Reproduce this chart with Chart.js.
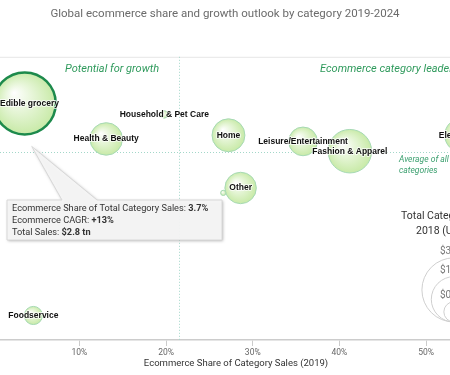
<!DOCTYPE html>
<html>
<head>
<meta charset="utf-8">
<script src="https://cdn.jsdelivr.net/npm/chart.js@4.4.1/dist/chart.umd.min.js"></script>
<style>
  html, body { margin: 0; padding: 0; background: #fff; overflow: hidden; }
</style>
</head>
<body>
<canvas id="chart" width="450" height="375"></canvas>
<script>
// category data (share of sales 2019 in %, ecommerce CAGR 2019-2024 in %, total sales 2018 in US$ tn)
const categories = ['Edible grocery', 'Household & Pet Care', 'Health & Beauty', 'Home', 'Other', '',
  'Leisure/Entertainment', 'Fashion & Apparel', 'Electronics', 'Foodservice'];
const shareValues = [3.7, 19.8, 13.1, 27.2, 28.6, 26.6, 35.8, 41.2, 54.1, 4.7];
const cagrValues = [13, 12.1, 10.1, 10.4, 6.1, 5.7, 9.9, 9.1, 10.4, -4.3];
const salesValues = [2.8, 0.04, 0.77, 0.79, 0.72, 0.02, 0.6, 1.38, 0.84, 0.24];

const avgShare = 21.5;
const avgCagr = 9.0;

const xTicks = [10, 20, 30, 40, 50];
const legendSizes = [3, 1.5, 0.3];
const legendLabels = ['$3 tn', '$1.5 tn', '$0.3 tn'];

const highlighted = 0; // the bubble the tooltip is shown for

// bubble radius in px from total sales (area proportional)
const maxR = 31;
const maxSales = 2.8;
function radiusFor(sales) {
  return maxR * Math.sqrt(sales / maxSales);
}

const green = '#2f9a5c';

// gradient fill for every bubble, computed from its scale position
function bubbleFill(c) {
  const chart = c.chart;
  const xs = chart.scales.x, ys = chart.scales.y;
  if (!xs || !ys || c.type !== 'data' || !c.raw) return '#d3eebb';
  const px = xs.getPixelForValue(c.raw.x);
  const py = ys.getPixelForValue(c.raw.y);
  const r = c.raw.r;
  if (!isFinite(px) || !isFinite(py) || !isFinite(r)) return '#d3eebb';
  const g = chart.ctx.createRadialGradient(px - r * 0.35, py - r * 0.35, 0, px, py, r * 1.05);
  g.addColorStop(0, '#ffffff');
  g.addColorStop(1, '#c6e9a4');
  return g;
}

// lines behind the bubbles: top rule and dotted averages
const backgroundLines = {
  id: 'backgroundLines',
  beforeDatasetsDraw(chart) {
    const { ctx, chartArea, scales } = chart;
    ctx.save();
    ctx.strokeStyle = '#e6e6e6';
    ctx.lineWidth = 1;
    ctx.beginPath();
    ctx.moveTo(chartArea.left, chartArea.top + 0.5);
    ctx.lineTo(chartArea.right, chartArea.top + 0.5);
    ctx.stroke();

    ctx.strokeStyle = '#a3d7c9';
    ctx.setLineDash([1, 2]);
    const ax = Math.round(scales.x.getPixelForValue(avgShare)) + 0.5;
    ctx.beginPath();
    ctx.moveTo(ax, chartArea.top);
    ctx.lineTo(ax, chartArea.bottom);
    ctx.stroke();
    const ay = Math.round(scales.y.getPixelForValue(avgCagr)) + 0.5;
    ctx.beginPath();
    ctx.moveTo(chartArea.left, ay);
    ctx.lineTo(chartArea.right, ay);
    ctx.stroke();
    ctx.restore();
  }
};

// text and overlays drawn over the bubbles
const overlays = {
  id: 'overlays',
  afterDatasetsDraw(chart) {
    const { ctx, scales, chartArea } = chart;
    const xs = scales.x, ys = scales.y;
    ctx.save();

    // bubble labels, kept inside the plot on the left
    ctx.font = 'bold 8.5px "Liberation Sans", Arial, sans-serif';
    ctx.textAlign = 'center';
    ctx.textBaseline = 'middle';
    ctx.lineJoin = 'round';
    categories.forEach((name, i) => {
      if (!name) return;
      const half = ctx.measureText(name).width / 2;
      const px = Math.max(xs.getPixelForValue(shareValues[i]), chartArea.left + half);
      const py = ys.getPixelForValue(cagrValues[i]);
      ctx.strokeStyle = 'rgba(255,255,255,0.7)';
      ctx.lineWidth = 2;
      ctx.strokeText(name, px, py);
      ctx.fillStyle = '#111';
      ctx.fillText(name, px, py);
    });

    // quadrant captions
    ctx.fillStyle = green;
    ctx.font = 'italic 11px Roboto, sans-serif';
    ctx.textAlign = 'left';
    ctx.fillText('Potential for growth', 65, 69);
    ctx.fillText('Ecommerce category leaders', 320, 69);

    ctx.font = 'italic 8.5px Roboto, sans-serif';
    ctx.fillStyle = '#3a9f6e';
    const ay = ys.getPixelForValue(avgCagr);
    ctx.fillText('Average of all', 399, ay + 7);
    ctx.fillText('categories', 399, ay + 18);

    // size legend
    ctx.fillStyle = '#333';
    ctx.font = '10.5px Roboto, sans-serif';
    ctx.textAlign = 'left';
    ctx.fillText('Total Category Sales', 401, 216);
    ctx.fillText('2018 (US$ tn)', 416, 231);
    const lx = 454, lbottom = 322;
    ctx.strokeStyle = '#cfcfcf';
    ctx.lineWidth = 1;
    ctx.font = '10px Roboto, sans-serif';
    ctx.fillStyle = '#777';
    legendSizes.forEach((s, i) => {
      const r = radiusFor(s);
      ctx.beginPath();
      ctx.arc(lx, lbottom - r, r, 0, Math.PI * 2);
      ctx.stroke();
      ctx.fillText(legendLabels[i], 440, lbottom - 2 * r - 6);
    });

    // x axis title
    ctx.fillStyle = '#333';
    ctx.font = '9.5px Roboto, sans-serif';
    ctx.textAlign = 'center';
    ctx.fillText('Ecommerce Share of Category Sales (2019)', 236, 364);

    // tooltip for the highlighted bubble
    const hx = xs.getPixelForValue(shareValues[highlighted]);
    const hy = ys.getPixelForValue(cagrValues[highlighted]);
    const hr = radiusFor(salesValues[highlighted]);
    const bx = 7, by = 200, bw = 215, bh = 40;
    const tipX = hx + 7, tipY = hy + hr + 12;
    ctx.beginPath();
    ctx.moveTo(bx, by);
    ctx.lineTo(bx + 55, by);
    ctx.lineTo(tipX, tipY);
    ctx.lineTo(bx + 90, by);
    ctx.lineTo(bx + bw, by);
    ctx.lineTo(bx + bw, by + bh);
    ctx.lineTo(bx, by + bh);
    ctx.closePath();
    ctx.save();
    ctx.shadowColor = 'rgba(0,0,0,0.3)';
    ctx.shadowBlur = 3;
    ctx.shadowOffsetX = 1;
    ctx.shadowOffsetY = 1;
    ctx.fillStyle = 'rgba(246,246,246,0.96)';
    ctx.fill();
    ctx.restore();
    ctx.strokeStyle = '#d8d8d8';
    ctx.lineWidth = 1;
    ctx.stroke();

    const rows = [
      ['Ecommerce Share of Total Category Sales: ', shareValues[highlighted] + '%'],
      ['Ecommerce CAGR: ', '+' + cagrValues[highlighted] + '%'],
      ['Total Sales: ', '$' + salesValues[highlighted] + ' tn']
    ];
    ctx.textAlign = 'left';
    ctx.fillStyle = '#333';
    rows.forEach((row, i) => {
      const ty = by + 9 + i * 12;
      ctx.font = '9.2px Roboto, sans-serif';
      ctx.fillText(row[0], bx + 5, ty);
      const w = ctx.measureText(row[0]).width;
      ctx.font = 'bold 9.2px Roboto, sans-serif';
      ctx.fillText(row[1], bx + 5 + w, ty);
    });

    ctx.restore();
  }
};

const bubbleData = categories.map((name, i) => ({
  x: shareValues[i],
  y: cagrValues[i],
  r: radiusFor(salesValues[i])
}));

const chart = new Chart(document.getElementById('chart'), {
  type: 'bubble',
  data: {
    datasets: [{
      label: 'Categories',
      data: bubbleData,
      backgroundColor: bubbleFill,
      borderColor: c => c.dataIndex === highlighted ? '#1d8a4c' : '#a6d9b4',
      borderWidth: c => c.dataIndex === highlighted ? 2.5 : 1,
      clip: false
    }]
  },
  options: {
    responsive: false,
    animation: false,
    events: [],
    layout: { autoPadding: false, padding: 0 },
    plugins: {
      legend: { display: false },
      tooltip: { enabled: false },
      title: {
        display: true,
        text: 'Global ecommerce share and growth outlook by category 2019-2024',
        color: '#6b6b6b',
        font: { family: 'Roboto', size: 11.5, weight: 'normal' },
        padding: { top: 7, bottom: 36 }
      }
    },
    scales: {
      x: {
        type: 'linear',
        min: 0.85,
        max: 52.75,
        afterFit: s => { s.height = 35; s.paddingLeft = 0; s.paddingRight = 0; },
        afterBuildTicks: s => { s.ticks = xTicks.map(v => ({ value: v })); },
        grid: { drawOnChartArea: false, drawTicks: true, tickLength: 6, color: '#cccccc' },
        border: { color: '#cccccc', width: 1.5 },
        ticks: {
          padding: 2,
          color: '#666',
          font: { family: 'Roboto', size: 8.5 },
          callback: v => v + '%'
        }
      },
      y: {
        display: false,
        min: -6.3,
        max: 16.8
      }
    }
  },
  plugins: [backgroundLines, overlays]
});
</script>
</body>
</html>
